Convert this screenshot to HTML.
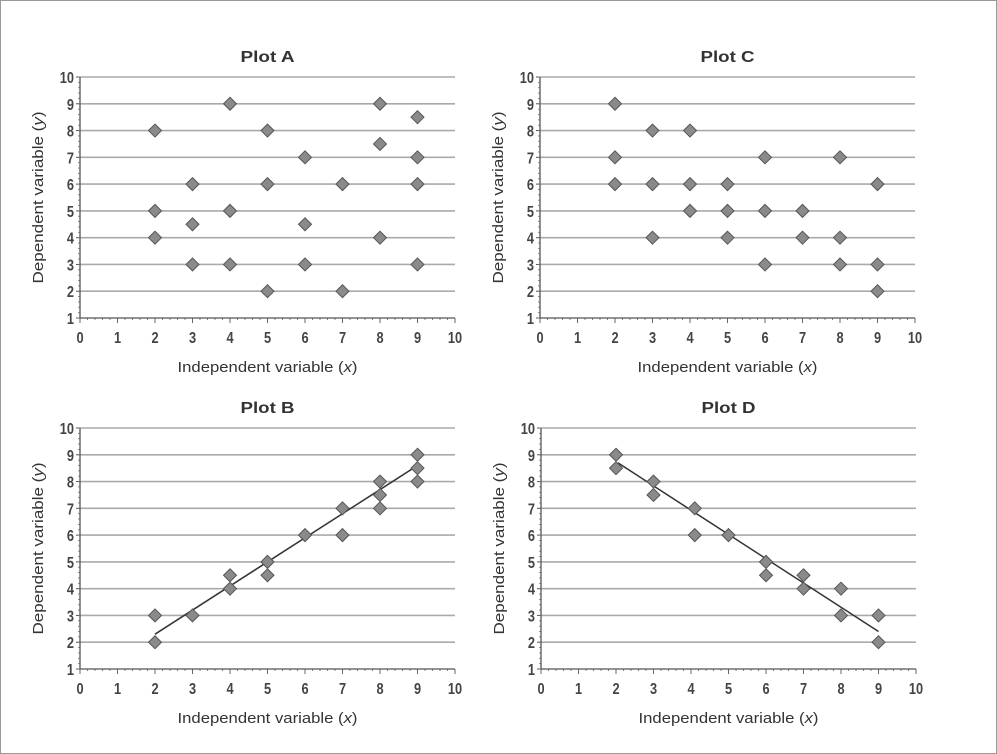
<!DOCTYPE html>
<html><head><meta charset="utf-8"><style>
html,body{margin:0;padding:0;background:#fff}
svg{display:block;font-family:"Liberation Sans",sans-serif}
</style></head><body>
<svg id="c" width="997" height="754" viewBox="0 0 997 754">
<rect x="0.5" y="0.5" width="996" height="753" fill="#fff" stroke="#999"/>
</svg>
<script>
const plotAX=[2,2,2,3,3,3,4,4,4,5,5,5,6,6,6,7,7,8,8,8,9,9,9,9];
const plotAY=[8,5,4,6,4.5,3,9,5,3,8,6,2,7,4.5,3,6,2,9,7.5,4,8.5,7,6,3];
const plotCX=[2,2,2,3,3,3,4,4,4,5,5,5,6,6,6,7,7,8,8,8,9,9,9];
const plotCY=[9,7,6,8,6,4,8,6,5,6,5,4,7,5,3,5,4,7,4,3,6,3,2];
const plotBX=[2,2,3,4,4,5,5,6,7,7,8,8,8,9,9,9];
const plotBY=[3,2,3,4.5,4,5,4.5,6,7,6,8,7.5,7,9,8.5,8];
const plotBLineX=[2,9];
const plotBLineY=[2.3,8.6];
const plotDX=[2,2,3,3,4.1,4.1,5,6,6,7,7,8,8,9,9];
const plotDY=[9,8.5,8,7.5,7,6,6,5,4.5,4.5,4,4,3,3,2];
const plotDLineX=[2.05,9];
const plotDLineY=[8.7,2.4];
const xTicks=[0,1,2,3,4,5,6,7,8,9,10];
const yTicks=[1,2,3,4,5,6,7,8,9,10];

const NS="http://www.w3.org/2000/svg";
const svg=document.getElementById('c');
function mk(tag,attrs,parent){const e=document.createElementNS(NS,tag);for(const k in attrs)e.setAttribute(k,attrs[k]);(parent||svg).appendChild(e);return e;}

function plot(id,title,ox,oy,xs,ys,lx,ly){
  const x0=ox, x1=ox+375, yTop=oy, yBot=oy+241;
  const sx=v=>x0+(v/10)*(x1-x0);
  const sy=v=>yBot-((v-1)/9)*(yBot-yTop);
  const g=mk('g',{});
  
  
  const t=mk('text',{x:(x0+x1)/2,y:yTop-15,'text-anchor':'middle','font-size':16,'font-weight':'bold',fill:'#333',textLength:54,lengthAdjust:'spacingAndGlyphs'},g);
  t.textContent=title;
  
  
  yTicks.forEach(v=>{
    if(v>1){const l=mk('line',{x1:x0,x2:x1,y1:sy(v),y2:sy(v),stroke:'#aaa','stroke-width':1.6},g);
    
    }
    const tl=mk('text',{x:0,y:0,'text-anchor':'end','font-size':16,'font-weight':'bold',fill:'#444',transform:`translate(${x0-6},${sy(v)+6}) scale(0.8,1)`},g);
    tl.textContent=v;
    
    
    mk('line',{x1:x0-4,x2:x0,y1:sy(v),y2:sy(v),stroke:'#555'},g);
  });
  for(let k=0;k<=45;k++){const yy=yBot-k*(yBot-yTop)/45;mk('line',{x1:x0-2,x2:x0,y1:yy,y2:yy,stroke:'#777','stroke-width':0.8},g);}
  for(let k=0;k<=50;k++){const xx=x0+k*(x1-x0)/50;mk('line',{x1:xx,x2:xx,y1:yBot,y2:yBot+(k%5==0?5:2),stroke:'#666','stroke-width':k%5==0?1:0.8},g);}
  xTicks.forEach(v=>{
    const tl=mk('text',{x:0,y:0,'text-anchor':'middle','font-size':16,'font-weight':'bold',fill:'#444',transform:`translate(${sx(v)},${yBot+25}) scale(0.8,1)`},g);
    tl.textContent=v;
    
    
  });
  const ax=mk('path',{d:`M${x0},${yTop} V${yBot} H${x1}`,fill:'none',stroke:'#555','stroke-width':1.3},g);
  
  
  const xt=mk('text',{x:(x0+x1)/2,y:yBot+54,'text-anchor':'middle','font-size':15,fill:'#333',textLength:180,lengthAdjust:'spacingAndGlyphs'},g);
  xt.innerHTML='Independent variable (<tspan font-style="italic">x</tspan>)';
  
  
  const cy=(yTop+yBot)/2;
  const yt=mk('text',{x:0,y:0,'text-anchor':'middle','font-size':15,fill:'#333',textLength:172,lengthAdjust:'spacingAndGlyphs',transform:`translate(${x0-37},${cy}) rotate(-90)`},g);
  yt.innerHTML='Dependent variable (<tspan font-style="italic">y</tspan>)';
  
  
  if(lx){const tl=mk('line',{x1:sx(lx[0]),y1:sy(ly[0]),x2:sx(lx[1]),y2:sy(ly[1]),stroke:'#333','stroke-width':1.5},g);
    
    }
  xs.forEach((xv,i)=>{
    const px=sx(xv),py=sy(ys[i]),r=6.5;
    const d=mk('path',{d:`M${px},${py-r} L${px+r},${py} L${px},${py+r} L${px-r},${py} Z`,fill:'#8a8a8a',stroke:'#555','stroke-width':1},g);
    
    
  });
}
plot('a','Plot A',80,77,plotAX,plotAY);
plot('c','Plot C',540,77,plotCX,plotCY);
plot('b','Plot B',80,428,plotBX,plotBY,plotBLineX,plotBLineY);
plot('d','Plot D',541,428,plotDX,plotDY,plotDLineX,plotDLineY);
</script>
</body></html>
